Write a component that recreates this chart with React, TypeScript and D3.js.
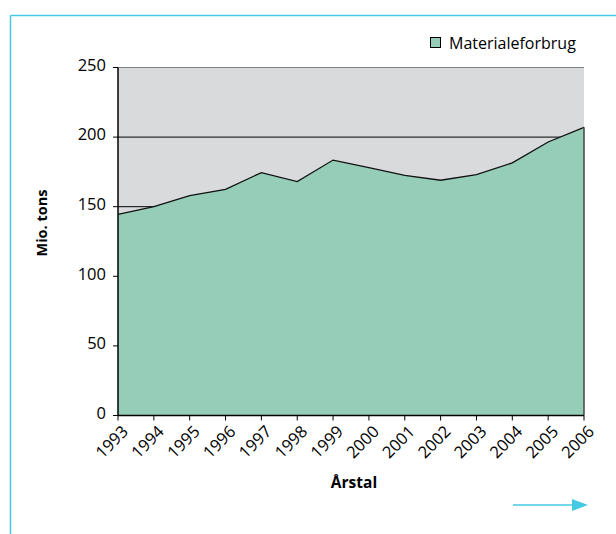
import React from "react";
import * as d3 from "d3";

const years = [1993, 1994, 1995, 1996, 1997, 1998, 1999, 2000, 2001, 2002, 2003, 2004, 2005, 2006];
const materialeforbrug = [144.5, 150, 158, 162.5, 174.5, 168, 183.5, 178, 172.5, 169, 173, 181.5, 196.5, 207];
const yTicks = [0, 50, 100, 150, 200, 250];
const gridValues = [150, 200];
const seriesName = "Materialeforbrug";
const xTitle = "Årstal";
const yTitle = "Mio. tons";

const W = 616;
const H = 534;
const left = 118;
const right = 584;
const top = 67.5;
const bottom = 415.5;
const font = "'Open Sans', 'DejaVu Sans', sans-serif";
const cyan = "#45c9e3";

export default function App() {
  const x = d3.scaleLinear().domain([years[0], years[years.length - 1]]).range([left, right]);
  const y = d3.scaleLinear().domain([0, 250]).range([bottom, top]);
  const data = years.map((yr, i) => ({ yr, v: materialeforbrug[i] }));
  const area = d3
    .area<{ yr: number; v: number }>()
    .x((d) => x(d.yr))
    .y0(y(0))
    .y1((d) => y(d.v));
  const line = d3
    .line<{ yr: number; v: number }>()
    .x((d) => x(d.yr))
    .y((d) => y(d.v));

  return (
    <svg
      width={W}
      height={H}
      style={{ position: "absolute", left: 0, top: 0, background: "#fff" }}
      fontFamily={font}
    >
      {/* frame */}
      <line x1={10.5} y1={15.5} x2={W} y2={15.5} stroke={cyan} strokeWidth={1.5} />
      <line x1={10.5} y1={15.5} x2={10.5} y2={H} stroke={cyan} strokeWidth={1.5} />

      {/* plot background */}
      <rect x={left} y={top} width={right - left} height={bottom - top} fill="#d9dadc" />
      <line x1={left} y1={top} x2={right} y2={top} stroke="#808080" strokeWidth={1.2} />
      {gridValues.map((g) => (
        <line key={g} x1={left} y1={y(g)} x2={right} y2={y(g)} stroke="#000" strokeWidth={1} />
      ))}

      {/* area */}
      <path d={area(data) || ""} fill="#95cdb9" />
      <path d={line(data) || ""} fill="none" stroke="#111" strokeWidth={1.3} />
      <line x1={right} y1={y(materialeforbrug[materialeforbrug.length - 1])} x2={right} y2={bottom} stroke="#444" strokeWidth={1.5} />

      {/* y axis */}
      <line x1={left} y1={top} x2={left} y2={bottom} stroke="#000" strokeWidth={1.5} />
      {yTicks.map((t) => (
        <g key={t}>
          <line x1={left - 5} y1={y(t)} x2={left} y2={y(t)} stroke="#000" strokeWidth={1} />
          <text x={left - 12} y={y(t)} dy="0.2em" textAnchor="end" fontSize={16.5} fill="#000">
            {t}
          </text>
        </g>
      ))}

      {/* x axis */}
      <line x1={left} y1={bottom} x2={right} y2={bottom} stroke="#000" strokeWidth={1.5} />
      {years.map((yr) => (
        <g key={yr}>
          <line x1={x(yr)} y1={bottom} x2={x(yr)} y2={bottom + 5} stroke="#000" strokeWidth={1} />
          <text
            transform={`translate(${x(yr) + 3},${bottom + 9}) rotate(-45)`}
            textAnchor="end"
            dy="0.7em"
            fontSize={16.5}
            fill="#000"
          >
            {yr}
          </text>
        </g>
      ))}

      {/* titles */}
      <text x={354} y={488} textAnchor="middle" fontSize={15.5} fontWeight="bold" fill="#000">
        {xTitle}
      </text>
      <text
        transform={`translate(47,223) rotate(-90)`}
        textAnchor="middle"
        fontSize={14.5}
        fontWeight="bold"
        fill="#000"
      >
        {yTitle}
      </text>

      {/* legend */}
      <rect x={430.5} y={37.5} width={10} height={10} fill="#95cdb9" stroke="#000" strokeWidth={1} />
      <text x={449} y={48.5} fontSize={16} fill="#000">
        {seriesName}
      </text>

      {/* arrow */}
      <line x1={513} y1={505} x2={576} y2={505} stroke={cyan} strokeWidth={1.5} />
      <path d="M572,499 L588,505 L572,511 Z" fill={cyan} />
    </svg>
  );
}
